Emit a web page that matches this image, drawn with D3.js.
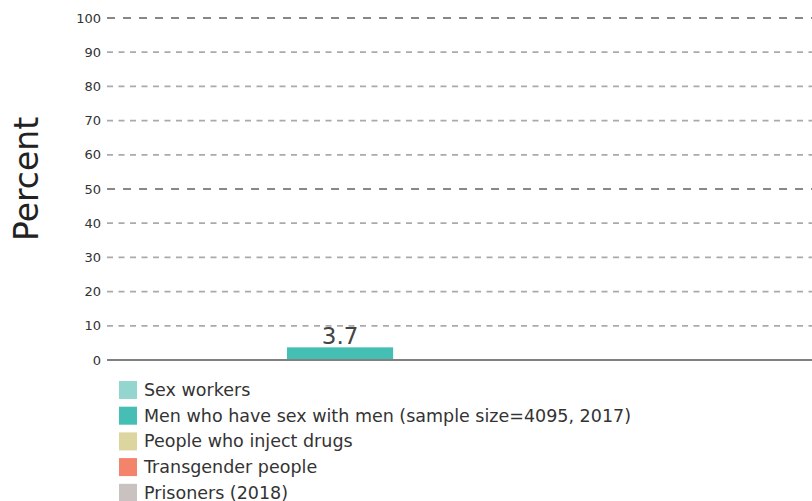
<!DOCTYPE html>
<html><head><meta charset="utf-8">
<script src="https://cdn.jsdelivr.net/npm/d3@7"></script>
<style>body{margin:0;background:#fff}svg{display:block}text{font-family:"DejaVu Sans",sans-serif}</style>
</head><body>
<svg id="c" width="812" height="501"></svg>
<script>
const seriesNames = ["Sex workers","Men who have sex with men (sample size=4095, 2017)","People who inject drugs","Transgender people","Prisoners (2018)"];
const seriesValues = [null, 3.7, null, null, null];
const seriesColors = ["#95d5cf","#45beb3","#ddd59f","#f4836c","#cac2c0"];
const yTicks = [0,10,20,30,40,50,60,70,80,90,100];

(function(){
const svg = d3.select("#c");
const pLeft = 107, pRight = 933, pTop = 18, pBottom = 360;
const x = d3.scaleBand().domain(seriesNames).range([pLeft, pRight]).paddingInner(0.41).paddingOuter(0);
const y = d3.scaleLinear().domain([0,100]).range([pBottom, pTop]);

// gridlines
svg.append("g").selectAll("line").data(yTicks.filter(d=>d>0)).join("line")
  .attr("x1", pLeft).attr("x2", 812)
  .attr("y1", d=>y(d)).attr("y2", d=>y(d))
  .attr("stroke", d=> d%50===0 ? "#888888" : "#aaaaaa")
  .attr("stroke-width", d=> d%50===0 ? 2.2 : 1.8)
  .attr("stroke-dasharray", d=> d%50===0 ? "8,8" : "6,5.5");

// y axis labels via axis
const ax = svg.append("g").attr("transform", `translate(${pLeft - 6},0)`)
  .call(d3.axisLeft(y).tickValues(yTicks).tickSize(0).tickPadding(0).tickFormat(d3.format("d")));
ax.select(".domain").remove();
ax.selectAll("text").attr("font-size", 13).attr("fill", "#333").style("font-family","DejaVu Sans");

// bars
svg.append("g").selectAll("rect").data(seriesNames.map((n,i)=>({n, v:seriesValues[i], c:seriesColors[i]})).filter(d=>d.v!=null)).join("rect")
  .attr("x", d=>x(d.n)).attr("width", x.bandwidth())
  .attr("y", d=>y(d.v)).attr("height", d=>y(0)-y(d.v))
  .attr("fill", d=>d.c);

// baseline
svg.append("line").attr("x1", pLeft).attr("x2", 812).attr("y1", y(0)).attr("y2", y(0))
  .attr("stroke", "#808080").attr("stroke-width", 2);

// value labels
svg.append("g").selectAll("text").data(seriesNames.map((n,i)=>({n, v:seriesValues[i]})).filter(d=>d.v!=null)).join("text")
  .attr("x", d=>x(d.n)+x.bandwidth()/2).attr("y", d=>y(d.v)-3)
  .attr("text-anchor","middle").attr("font-size", 23).attr("fill","#444")
  .text(d=>d.v);

// y title
svg.append("text").attr("transform","translate(38,179) rotate(-90)")
  .attr("text-anchor","middle").attr("font-size", 33).attr("fill","#222").text("Percent");

// legend
const lg = svg.append("g").selectAll("g").data(seriesNames).join("g")
  .attr("transform", (d,i)=>`translate(119,${381 + i*25.7})`);
lg.append("rect").attr("width",18).attr("height",18).attr("fill",(d,i)=>seriesColors[i]);
lg.append("text").attr("x",25).attr("y",15).attr("font-size",17.5).attr("fill","#333").text(d=>d);
})();
</script>
</body></html>
